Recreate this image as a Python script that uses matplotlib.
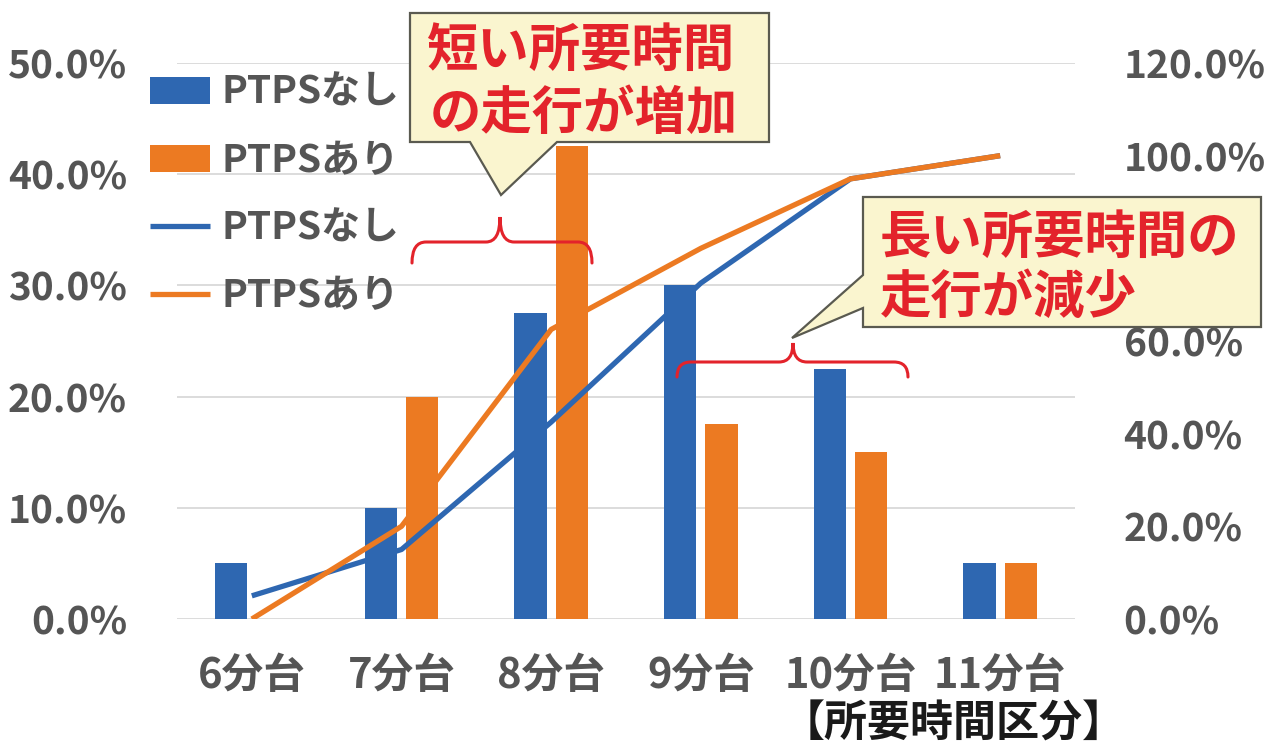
import matplotlib
matplotlib.use('Agg')
import matplotlib.pyplot as plt
from matplotlib.patches import Polygon, PathPatch
from matplotlib.path import Path
from matplotlib.ticker import FuncFormatter
import numpy as np

plt.rcParams['font.family'] = ['Noto Sans CJK JP', 'DejaVu Sans']

# data
categories = ['6分台', '7分台', '8分台', '9分台', '10分台', '11分台']
share_nashi = [5.0, 10.0, 27.5, 30.0, 22.5, 5.0]      # 棒: PTPSなし (%)
share_ari = [0.0, 20.0, 42.5, 17.5, 15.0, 5.0]        # 棒: PTPSあり (%)
cum_nashi = [5.0, 15.0, 42.5, 72.5, 95.0, 100.0]      # 線: 累積 PTPSなし (%)
cum_ari = [0.0, 20.0, 62.5, 80.0, 95.0, 100.0]        # 線: 累積 PTPSあり (%)
left_ticks = [0, 10, 20, 30, 40, 50]
right_ticks = [0, 20, 40, 60, 80, 100, 120]
hidden_right = [80]   # covered by the callout in the original

BLUE = '#2E67B1'
ORANGE = '#EC7A22'
RED = '#E3232B'
GRAY = '#555555'

W, H = 1281, 749
fig = plt.figure(figsize=(W / 100, H / 100), dpi=100)

def fp(x, y):
    # pixel -> figure fraction
    return x / W, 1 - y / H

ax = fig.add_axes([177 / W, 1 - 619 / H, 898 / W, 556 / H])
ax2 = ax.twinx()

x = np.arange(len(categories))
bw = 0.215
off = 0.138
b1 = ax.bar(x - off, share_nashi, bw, color=BLUE, label='PTPSなし', zorder=3)
b2 = ax.bar(x + off, share_ari, bw, color=ORANGE, label='PTPSあり', zorder=3)

l1, = ax2.plot(x, cum_nashi, color=BLUE, lw=3.8, label='PTPSなし', solid_capstyle='butt')
l2, = ax2.plot(x, cum_ari, color=ORANGE, lw=3.8, label='PTPSあり', solid_capstyle='butt')

ax.set_xlim(-0.5, len(categories) - 0.5)
ax.set_ylim(0, 50)
ax.set_yticks(left_ticks)
ax2.set_ylim(0, 120)
ax2.set_yticks(right_ticks)
ax.yaxis.set_major_formatter(FuncFormatter(lambda v, p: f'{v:.1f}%'))
ax2.yaxis.set_major_formatter(FuncFormatter(
    lambda v, p: '' if round(v) in hidden_right else f'{v:.1f}%'))
ax.set_xticks(x)
ax.set_xticklabels(categories)

ax.grid(axis='y', color='#D9D9D9', lw=1.3, zorder=0)
ax.set_axisbelow(True)
for a in (ax, ax2):
    for s in a.spines.values():
        s.set_visible(False)
ax.tick_params(axis='y', length=0, pad=36, labelsize=28, labelcolor=GRAY)
ax.tick_params(axis='x', length=0, pad=26, labelsize=30, labelcolor=GRAY)
ax2.tick_params(axis='y', length=0, pad=35, labelsize=28, labelcolor=GRAY)
for t in ax.get_xticklabels() + ax.get_yticklabels() + ax2.get_yticklabels():
    t.set_fontweight('bold')

leg = ax2.legend([b1, b2, l1, l2], ['PTPSなし', 'PTPSあり', 'PTPSなし', 'PTPSあり'],
                 loc='upper left', bbox_to_anchor=fp(150, 73), bbox_transform=fig.transFigure,
                 frameon=False, handlelength=1.55, handleheight=0.7,
                 prop={'size': 28, 'weight': 'bold'},
                 handletextpad=0.3, labelspacing=0.74, borderaxespad=0, borderpad=0)
for t in leg.get_texts():
    t.set_color(GRAY)

fig.text(*fp(954, 724), '【所要時間区分】', ha='center', va='center', fontsize=31,
         fontweight='bold', color='#1A1A1A')

# callouts
box_fc = '#FAF5CF'
box_ec = '#5A5A50'
c1 = [(410, 13), (769, 13), (769, 142), (557, 142), (501, 195), (470, 142), (410, 142)]
c2 = [(863, 197), (1261, 197), (1261, 327), (863, 327), (863, 308), (792, 338), (863, 275)]
for pts in (c1, c2):
    fig.patches.append(Polygon([fp(*p) for p in pts], closed=True, transform=fig.transFigure,
                               fc=box_fc, ec=box_ec, lw=1.6, zorder=5))

txt_kw = dict(ha='left', va='center', fontsize=37, fontweight='bold', color=RED, zorder=6)
fig.text(*fp(426, 50), '短い所要時間', **txt_kw)
fig.text(*fp(430, 113), 'の走行が増加', **txt_kw)
fig.text(*fp(880, 237), '長い所要時間の', **txt_kw)
fig.text(*fp(880, 297), '走行が減少', **txt_kw)

def brace(x0, x1, xm, yb, yh, yt, r=14):
    verts = [(x0, yb), (x0, yh), (x0 + r, yh),
             (xm - r, yh), (xm, yh), (xm, yt),
             (xm, yh), (xm + r, yh),
             (x1 - r, yh), (x1, yh), (x1, yb)]
    codes = [Path.MOVETO, Path.CURVE3, Path.CURVE3,
             Path.LINETO, Path.CURVE3, Path.CURVE3,
             Path.CURVE3, Path.CURVE3,
             Path.LINETO, Path.CURVE3, Path.CURVE3]
    path = Path([fp(*v) for v in verts], codes)
    fig.patches.append(PathPatch(path, transform=fig.transFigure, fc='none', ec=RED,
                                 lw=2.2, zorder=5, capstyle='round'))

brace(412, 592, 500, 263, 242, 217)
brace(677, 908, 793, 377, 362, 343)

fig.savefig('out.png', dpi=100)
